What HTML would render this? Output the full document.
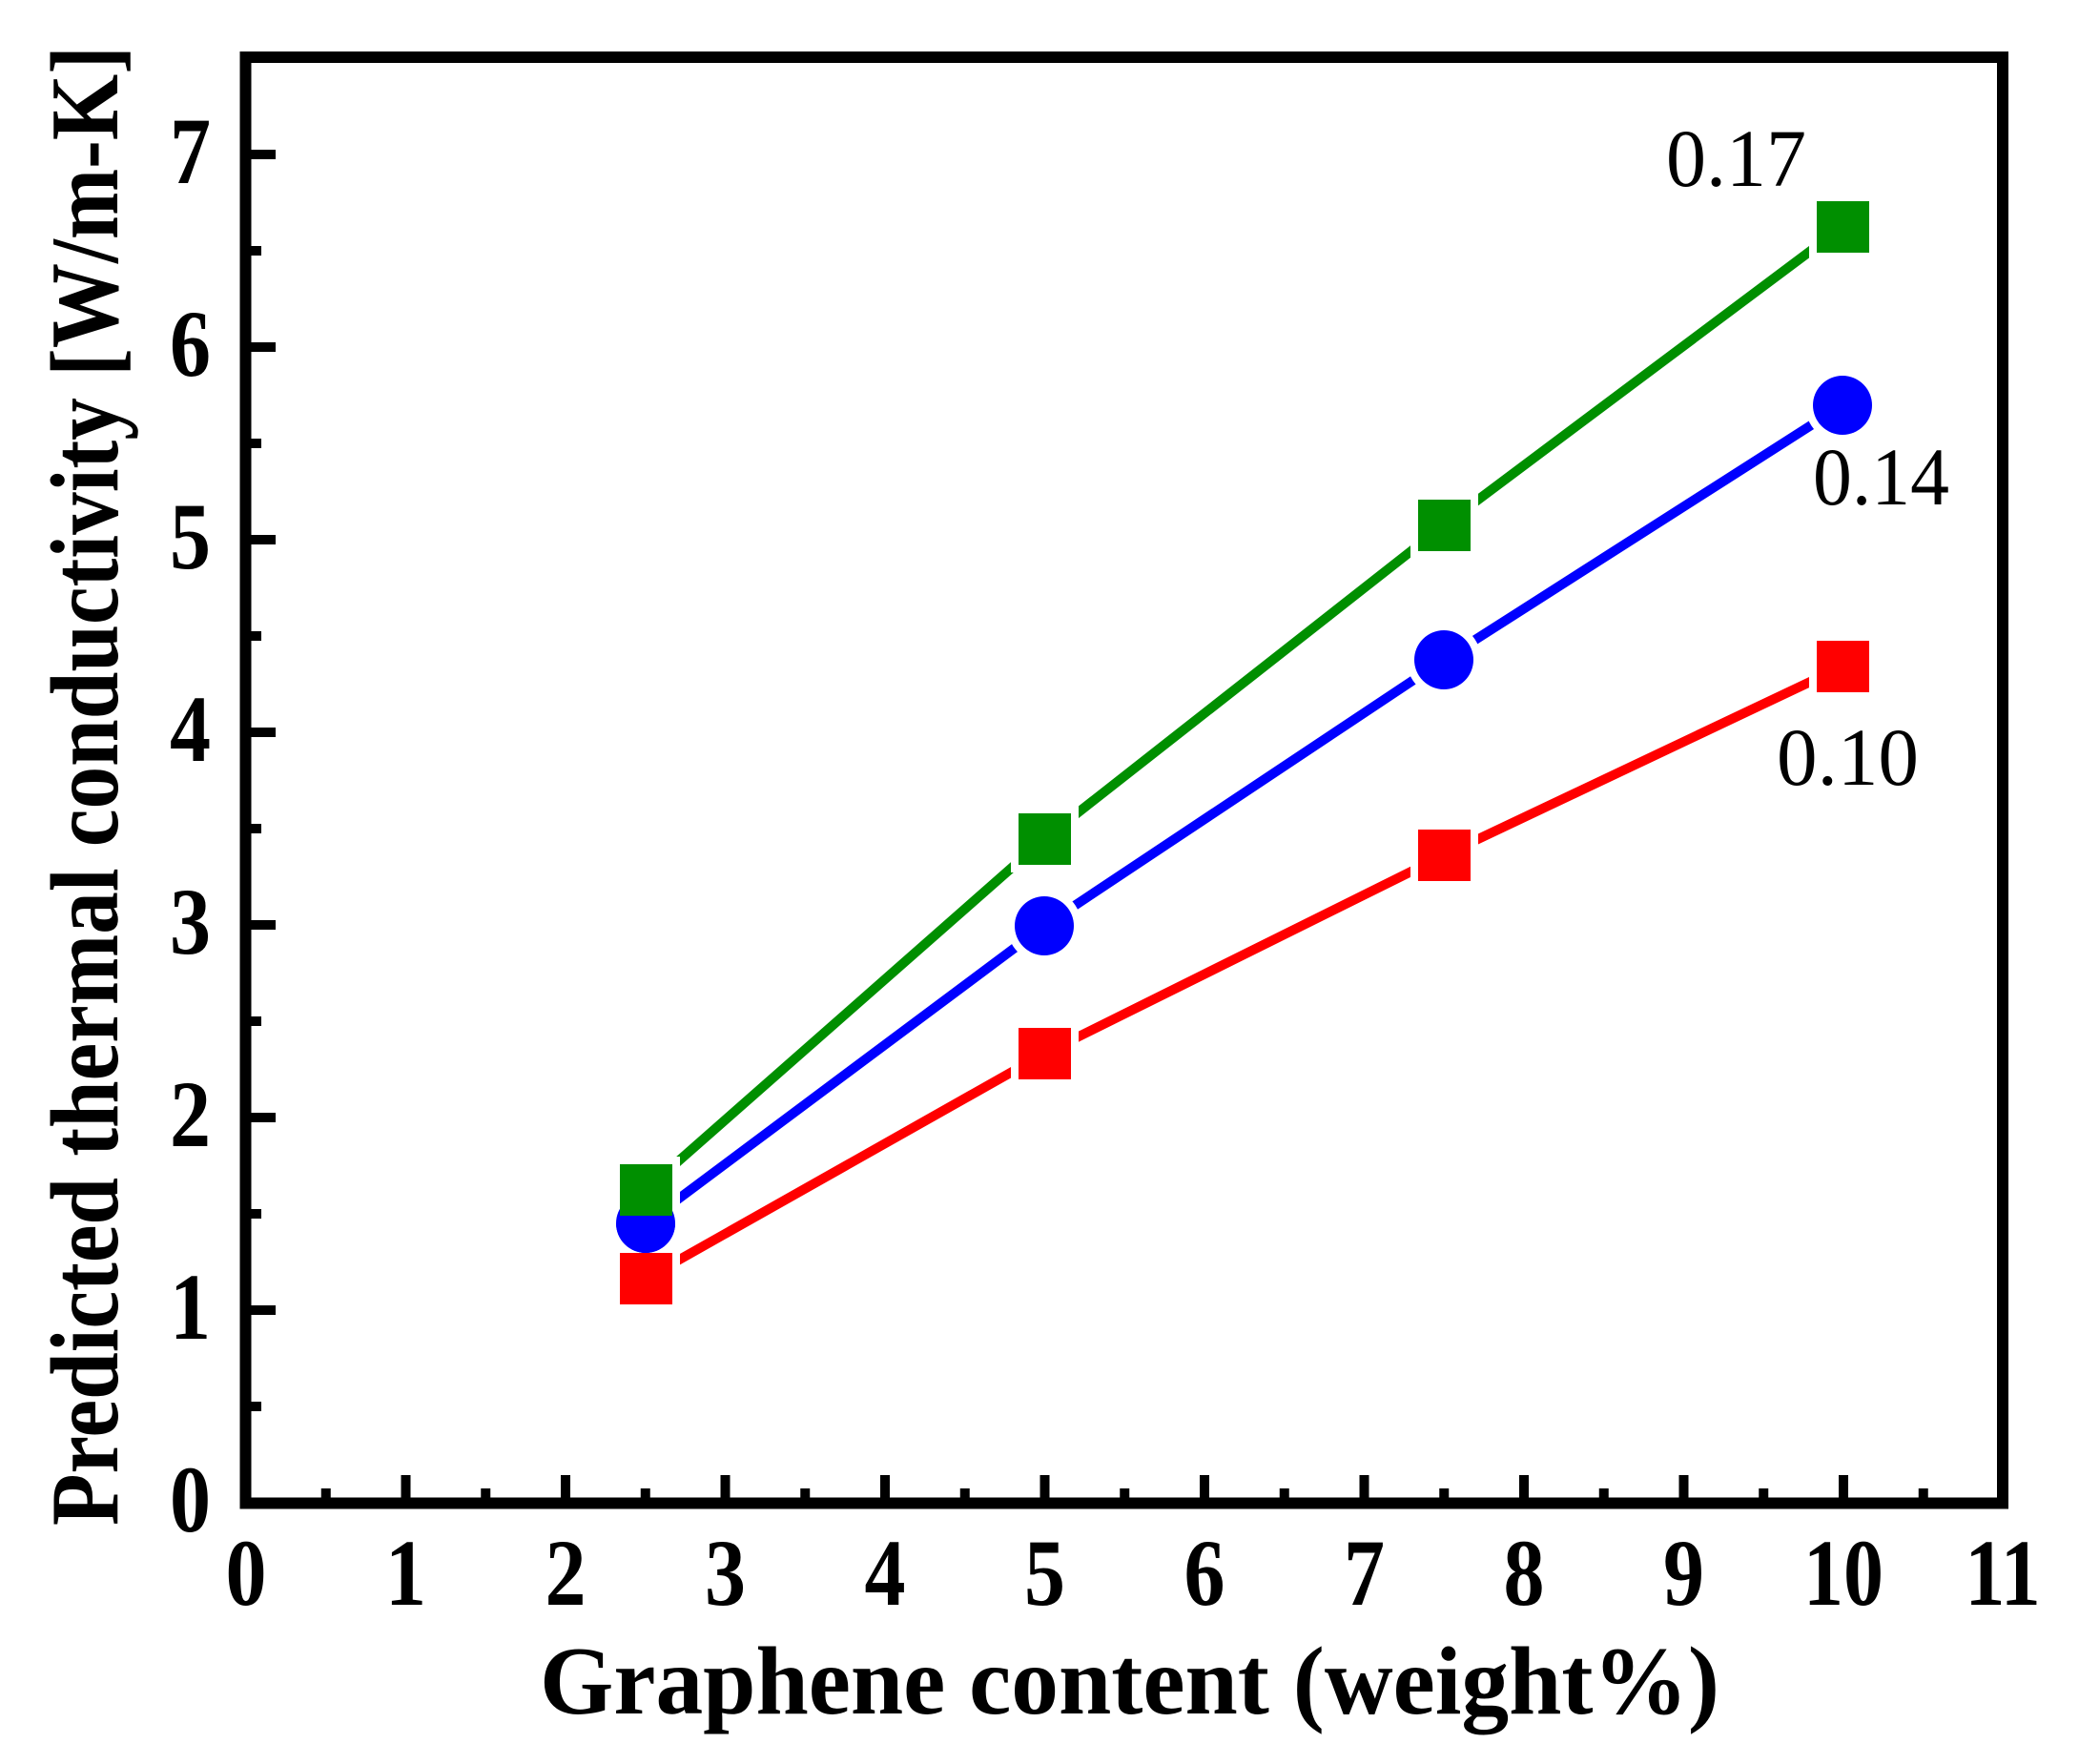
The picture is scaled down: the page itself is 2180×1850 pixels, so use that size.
<!DOCTYPE html>
<html><head><meta charset="utf-8"><style>html,body{margin:0;padding:0;background:#fff}svg{display:block}</style></head>
<body>
<svg width="2180" height="1850" viewBox="0 0 2180 1850" xmlns="http://www.w3.org/2000/svg">
<g stroke="#000" stroke-width="10">
<line x1="263" y1="1374" x2="289" y2="1374"/><line x1="263" y1="1172" x2="289" y2="1172"/><line x1="263" y1="970" x2="289" y2="970"/><line x1="263" y1="768" x2="289" y2="768"/><line x1="263" y1="566" x2="289" y2="566"/><line x1="263" y1="364" x2="289" y2="364"/><line x1="263" y1="162" x2="289" y2="162"/>
<line x1="263" y1="1475" x2="274" y2="1475"/><line x1="263" y1="1273" x2="274" y2="1273"/><line x1="263" y1="1071" x2="274" y2="1071"/><line x1="263" y1="869" x2="274" y2="869"/><line x1="263" y1="667" x2="274" y2="667"/><line x1="263" y1="465" x2="274" y2="465"/><line x1="263" y1="263" x2="274" y2="263"/>
</g>
<g stroke="#000" stroke-width="10">
<line x1="425.5" y1="1571" x2="425.5" y2="1547"/><line x1="593" y1="1571" x2="593" y2="1547"/><line x1="760.5" y1="1571" x2="760.5" y2="1547"/><line x1="928" y1="1571" x2="928" y2="1547"/><line x1="1095.5" y1="1571" x2="1095.5" y2="1547"/><line x1="1263" y1="1571" x2="1263" y2="1547"/><line x1="1430.5" y1="1571" x2="1430.5" y2="1547"/><line x1="1598" y1="1571" x2="1598" y2="1547"/><line x1="1765.5" y1="1571" x2="1765.5" y2="1547"/><line x1="1933" y1="1571" x2="1933" y2="1547"/>
<line x1="341.75" y1="1571" x2="341.75" y2="1561"/><line x1="509.25" y1="1571" x2="509.25" y2="1561"/><line x1="676.75" y1="1571" x2="676.75" y2="1561"/><line x1="844.25" y1="1571" x2="844.25" y2="1561"/><line x1="1011.75" y1="1571" x2="1011.75" y2="1561"/><line x1="1179.25" y1="1571" x2="1179.25" y2="1561"/><line x1="1346.75" y1="1571" x2="1346.75" y2="1561"/><line x1="1514.25" y1="1571" x2="1514.25" y2="1561"/><line x1="1681.75" y1="1571" x2="1681.75" y2="1561"/><line x1="1849.25" y1="1571" x2="1849.25" y2="1561"/><line x1="2016.75" y1="1571" x2="2016.75" y2="1561"/>
</g>
<rect x="257.5" y="60" width="1842.5" height="1516.5" fill="none" stroke="#000" stroke-width="12"/>

<g fill="none" stroke-width="10" stroke-linecap="round" stroke-linejoin="round">
<polyline stroke="#008f00" points="677,1248 1095,880 1514,551 1932,238"/>
<polyline stroke="#0000ff" points="677,1283 1095,971 1514,692 1932,425"/>
<polyline stroke="#ff0000" points="677,1341 1095,1105 1514,897 1932,699"/>
</g>
<g stroke="#fff" stroke-width="16" paint-order="stroke">
<rect x="1068" y="1078" width="55" height="54" fill="#ff0000"/>
<rect x="1487" y="870" width="55" height="54" fill="#ff0000"/>
<rect x="1905" y="672" width="55" height="54" fill="#ff0000"/>
<circle cx="1095" cy="971" r="31" fill="#0000ff"/>
<circle cx="1514" cy="692" r="31" fill="#0000ff"/>
<circle cx="1932" cy="425" r="31" fill="#0000ff"/>
<rect x="1068" y="853" width="55" height="54" fill="#008f00"/>
<rect x="1487" y="524" width="55" height="54" fill="#008f00"/>
<rect x="1905" y="211" width="55" height="54" fill="#008f00"/>
<rect x="650" y="1314" width="55" height="54" fill="#ff0000"/>
<circle cx="677" cy="1283" r="31" fill="#0000ff"/>
<rect x="650" y="1221" width="55" height="54" fill="#008f00"/>
</g>
<rect x="650" y="1314" width="55" height="54" fill="#ff0000"/>
<circle cx="677" cy="1283" r="31" fill="#0000ff"/>
<rect x="650" y="1221" width="55" height="54" fill="#008f00"/>

<g font-family="Liberation Serif, serif" font-size="86" fill="#000">
<text x="1747" y="195" textLength="147" lengthAdjust="spacingAndGlyphs">0.17</text>
<text x="1901" y="529" textLength="143" lengthAdjust="spacingAndGlyphs">0.14</text>
<text x="1863" y="823" textLength="149" lengthAdjust="spacingAndGlyphs">0.10</text>
</g>

<g font-family="Liberation Serif, serif" font-weight="bold" font-size="100" fill="#000" text-anchor="end">
<text transform="translate(221,1606) scale(0.86,1)">0</text>
<text transform="translate(221,1404) scale(0.86,1)">1</text>
<text transform="translate(221,1202) scale(0.86,1)">2</text>
<text transform="translate(221,1000) scale(0.86,1)">3</text>
<text transform="translate(221,798) scale(0.86,1)">4</text>
<text transform="translate(221,596) scale(0.86,1)">5</text>
<text transform="translate(221,394) scale(0.86,1)">6</text>
<text transform="translate(221,192) scale(0.86,1)">7</text>
</g>
<g font-family="Liberation Serif, serif" font-weight="bold" font-size="100" fill="#000" text-anchor="middle">
<text transform="translate(258,1683) scale(0.86,1)">0</text>
<text transform="translate(425.5,1683) scale(0.86,1)">1</text>
<text transform="translate(593,1683) scale(0.86,1)">2</text>
<text transform="translate(760.5,1683) scale(0.86,1)">3</text>
<text transform="translate(928,1683) scale(0.86,1)">4</text>
<text transform="translate(1095.5,1683) scale(0.86,1)">5</text>
<text transform="translate(1263,1683) scale(0.86,1)">6</text>
<text transform="translate(1430.5,1683) scale(0.86,1)">7</text>
<text transform="translate(1598,1683) scale(0.86,1)">8</text>
<text transform="translate(1765.5,1683) scale(0.86,1)">9</text>
<text transform="translate(1933,1683) scale(0.84,1)">10</text>
<text transform="translate(2100,1683) scale(0.84,1)">11</text>
</g>
<text x="566" y="1797" font-family="Liberation Serif, serif" font-weight="bold" font-size="102" textLength="1237" lengthAdjust="spacingAndGlyphs">Graphene content (weight%)</text>
<text transform="translate(123,1600) rotate(-90)" font-family="Liberation Serif, serif" font-weight="bold" font-size="102" textLength="1552" lengthAdjust="spacingAndGlyphs">Predicted thermal conductivity [W/m-K]</text>
</svg>
</body></html>
